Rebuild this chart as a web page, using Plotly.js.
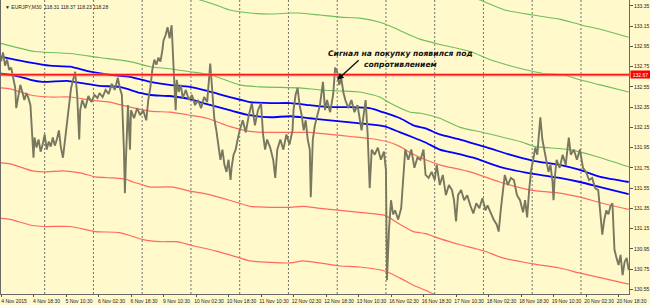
<!DOCTYPE html>
<html><head><meta charset="utf-8">
<script src="https://cdn.plot.ly/plotly-3.0.1.min.js"></script>
<style>html,body{margin:0;padding:0;background:#FFF9CC;}#chart{width:650px;height:305px;}</style>
</head><body><div id="chart"></div>
<script>
const symbolHeader = "\u25BC EURJPY,M30  118.31 118.37 118.23 118.28";
const labelBars = [0,32,64,96,128,160,192,224,256,288,320,352,384,416,448,480,512,544,576,608];
const labelTexts = ["4 Nov 2015","4 Nov 18:30","5 Nov 10:30","6 Nov 02:30","6 Nov 18:30","9 Nov 10:30","10 Nov 02:30","10 Nov 18:30","11 Nov 10:30","12 Nov 02:30","12 Nov 18:30","13 Nov 10:30","16 Nov 02:30","16 Nov 18:30","17 Nov 10:30","18 Nov 02:30","18 Nov 18:30","19 Nov 10:30","20 Nov 02:30","20 Nov 18:30"];
const dayGridBars = [43,91,139,187,235,283,331,379,427,475,523,571];
const yTicks = [133.35,133.15,132.95,132.75,132.55,132.35,132.15,131.95,131.75,131.55,131.35,131.15,130.95,130.75,130.55];
const resistance = 132.67;
const noteLines = ["Сигнал на покупку появился под","сопротивлением"];

const priceBars = [0,2,4,6,8,10,12,14,15,17,19,21,23,25,27,29,30,31,32,33,35,37,39,41,43,45,47,49,51,53,55,57,59,61,63,65,67,69,71,73,75,77,78,80,83,86,89,92,95,97,100,103,106,109,112,115,117,119,121,122,123,125,127,128,131,134,137,140,143,145,147,149,151,153,155,157,159,160,162,164,166,168,170,172,173,175,177,179,182,185,188,191,194,197,200,203,206,208,210,212,214,216,218,220,222,224,226,227,229,231,233,235,238,241,244,247,250,253,256,258,260,262,265,268,270,272,275,278,281,284,287,288,290,292,294,296,298,300,302,304,305,307,309,311,314,317,319,321,324,327,329,331,333,335,337,339,342,345,348,351,353,355,357,359,361,363,365,368,371,374,377,379,380,382,384,386,388,391,394,396,398,401,404,407,410,413,416,418,421,424,427,429,432,435,438,441,444,446,448,450,453,456,459,462,465,468,471,474,477,479,482,485,488,490,492,494,496,499,502,505,508,511,514,516,518,520,522,524,526,528,530,531,533,535,537,539,541,543,544,545,547,550,553,556,559,561,564,567,570,573,576,579,582,585,588,590,592,594,596,598,600,602,604,606,608,610,612,614,616,618];
const priceClose = [132.80,132.89,132.76,132.82,132.72,132.74,132.64,132.54,132.34,132.47,132.57,132.50,132.42,132.49,132.44,132.37,132.15,131.93,131.85,132.05,131.95,132.03,131.91,131.98,132.08,131.93,132.01,131.96,132.05,131.97,132.03,132.12,131.95,131.85,132.03,132.22,132.42,132.54,132.62,132.70,132.47,132.03,132.32,132.42,132.34,132.46,132.40,132.47,132.44,132.49,132.45,132.52,132.48,132.58,132.52,132.64,132.54,132.47,131.93,131.50,131.83,132.37,131.93,132.32,132.24,132.34,132.27,132.32,132.22,132.42,132.54,132.72,132.82,132.77,132.84,132.80,132.92,133.01,133.06,133.14,133.03,133.16,132.72,132.32,132.62,132.50,132.57,132.44,132.52,132.42,132.47,132.37,132.42,132.34,132.45,132.40,132.78,132.47,132.24,132.12,131.98,131.83,131.93,131.78,131.71,131.83,131.63,131.75,131.88,131.93,132.03,132.12,132.22,132.10,132.27,132.39,132.17,132.32,132.39,132.08,131.93,132.03,131.95,131.83,131.65,131.93,132.03,131.93,132.08,131.98,132.12,132.32,132.47,132.54,132.37,132.27,132.12,132.22,132.03,131.93,131.46,132.03,132.17,132.24,132.37,132.60,132.32,132.42,132.30,132.47,132.74,132.70,132.57,132.64,132.50,132.42,132.34,132.42,132.30,132.37,132.22,132.12,132.27,132.42,132.08,131.55,131.93,131.88,131.95,131.83,131.91,131.73,130.64,131.14,131.43,131.29,131.33,131.24,131.35,131.63,131.93,131.83,131.93,131.75,131.85,131.83,131.93,131.68,131.65,131.71,131.63,131.78,131.58,131.68,131.48,131.58,131.53,131.43,131.22,131.48,131.53,131.43,131.48,131.38,131.30,131.40,131.35,131.45,131.33,131.38,131.31,131.24,131.19,131.12,131.33,131.53,131.68,131.58,131.65,131.63,131.48,131.43,131.31,131.43,131.26,131.53,131.73,131.83,131.95,131.88,132.17,132.25,132.03,131.93,131.83,131.71,131.78,131.61,131.43,131.63,131.83,131.75,131.88,131.78,132.05,131.88,131.93,131.83,131.93,131.75,131.71,131.63,131.65,131.55,131.53,131.33,131.09,131.24,131.33,131.29,131.37,131.40,130.94,130.86,130.79,130.89,130.69,130.82,130.86,130.74];

const g0Bars = [462,474,496,524,550,572,590,618];
const g0Vals = [133.44,133.40,133.31,133.26,133.22,133.16,133.12,133.04];
const g1Bars = [186,196,206,225,245,265,285,294,314,334,353,373,388,403,413,432,462,481,501,521,536,553,570,590,618];
const g1Vals = [133.44,133.41,133.38,133.31,133.28,133.27,133.28,133.28,133.26,133.24,133.23,133.19,133.13,133.06,133.02,132.97,132.90,132.82,132.76,132.71,132.68,132.67,132.62,132.57,132.50];
const g2Bars = [0,33,68,97,127,147,166,186,206,235,255,294,314,334,353,373,383,403,413,432,452,475,491,511,526,538,560,587,618];
const g2Vals = [132.98,132.90,132.88,132.84,132.80,132.75,132.73,132.70,132.67,132.57,132.55,132.54,132.52,132.51,132.50,132.45,132.39,132.30,132.29,132.24,132.15,132.10,132.06,132.01,131.96,131.95,131.93,131.86,131.76];
const b1Bars = [0,9,29,48,68,88,107,127,147,166,186,203,225,245,265,285,304,324,344,363,376,393,406,418,432,452,479,501,524,550,570,590,618];
const b1Vals = [132.85,132.83,132.79,132.76,132.75,132.70,132.67,132.65,132.60,132.57,132.55,132.51,132.45,132.40,132.39,132.39,132.37,132.35,132.35,132.34,132.30,132.24,132.17,132.14,132.08,132.03,131.95,131.88,131.82,131.78,131.73,131.66,131.61];
const b2Bars = [0,9,19,29,41,65,78,97,117,137,147,166,186,199,225,245,265,285,304,324,344,363,378,393,406,418,432,445,465,491,524,550,570,590,618];
const b2Vals = [132.68,132.67,132.65,132.62,132.60,132.61,132.59,132.56,132.55,132.49,132.47,132.46,132.43,132.39,132.32,132.27,132.25,132.26,132.24,132.22,132.20,132.18,132.16,132.10,132.05,132.00,131.93,131.90,131.85,131.76,131.69,131.65,131.61,131.56,131.49];
const r1Bars = [0,9,29,48,68,88,107,127,147,166,186,203,225,245,265,285,304,324,344,363,380,393,403,418,432,462,491,521,550,570,592,618];
const r1Vals = [132.54,132.53,132.47,132.45,132.45,132.42,132.40,132.35,132.31,132.30,132.27,132.24,132.16,132.11,132.10,132.10,132.10,132.08,132.06,132.04,132.01,131.96,131.90,131.83,131.78,131.71,131.61,131.53,131.50,131.46,131.40,131.34];
const r2Bars = [0,9,31,43,61,78,93,110,122,130,140,147,169,186,203,225,235,245,265,285,297,314,334,353,363,378,393,406,418,432,452,475,494,524,550,570,592,618];
const r2Vals = [131.80,131.79,131.72,131.71,131.72,131.70,131.66,131.65,131.64,131.61,131.58,131.56,131.56,131.52,131.49,131.43,131.40,131.37,131.36,131.36,131.37,131.35,131.33,131.31,131.30,131.28,131.19,131.12,131.10,131.05,130.99,130.93,130.86,130.80,130.76,130.71,130.66,130.60];
const r3Bars = [0,9,31,43,68,93,117,140,157,173,189,211,225,235,245,285,297,314,334,353,378,393,406,418,429,452,491,550,618];
const r3Vals = [131.25,131.24,131.18,131.17,131.17,131.12,131.11,131.04,131.02,131.02,130.98,130.93,130.89,130.86,130.83,130.81,130.83,130.81,130.78,130.77,130.73,130.66,130.59,130.54,130.49,130.43,130.34,130.23,130.10];

const GREEN = '#6cbf5a', BLUE = '#0000ff', RED = '#ff6a5e';
function band(xs, ys, color, width) {
  return {x: xs, y: ys, type: 'scatter', mode: 'lines', hoverinfo: 'skip',
          line: {color: color, width: width, shape: 'spline', smoothing: 0.6}};
}
const traces = [
  band(g0Bars, g0Vals, GREEN, 1.1),
  band(g1Bars, g1Vals, GREEN, 1.1),
  band(g2Bars, g2Vals, GREEN, 1.1),
  band(r1Bars, r1Vals, RED, 1.2),
  band(r2Bars, r2Vals, RED, 1.2),
  band(r3Bars, r3Vals, RED, 1.2),
  band(b1Bars, b1Vals, BLUE, 1.8),
  band(b2Bars, b2Vals, BLUE, 1.8),
  {x: priceBars, y: priceClose, type: 'scatter', mode: 'lines', hoverinfo: 'skip',
   line: {color: '#78785f', width: 1.9}}
];

const shapes = dayGridBars.map(b => ({type: 'line', xref: 'x', yref: 'paper', x0: b, x1: b, y0: 0, y1: 1,
  layer: 'below', line: {color: '#707070', width: 1, dash: '2px,2px'}}));
shapes.push({type: 'line', xref: 'paper', yref: 'y', x0: 0, x1: 1, y0: resistance, y1: resistance,
  line: {color: 'rgba(255,120,120,0.55)', width: 3.5}});
shapes.push({type: 'line', xref: 'paper', yref: 'y', x0: 0, x1: 1, y0: resistance, y1: resistance,
  line: {color: '#ff1a1a', width: 1.4}});

const annotations = [
  {xref: 'paper', yref: 'paper', x: 0, y: 1, xanchor: 'left', yanchor: 'top', xshift: 2, yshift: -2,
   text: symbolHeader, showarrow: false, font: {family: 'Liberation Sans, Arial', size: 5, color: '#222'}},
  {xref: 'x', yref: 'y', x: 393, y: 132.885, text: noteLines[0], showarrow: false,
   font: {family: 'DejaVu Sans', size: 7.6, color: '#111', weight: 'bold', style: 'italic'}},
  {xref: 'x', yref: 'y', x: 393, y: 132.776, text: noteLines[1], showarrow: false,
   font: {family: 'DejaVu Sans', size: 7.6, color: '#111', weight: 'bold', style: 'italic'}},
  {xref: 'x', yref: 'y', x: 331, y: 132.62, ax: 23, ay: -21, text: '', showarrow: true,
   arrowhead: 2, arrowsize: 1, arrowwidth: 1.3, arrowcolor: '#111'},
  {xref: 'paper', yref: 'y', x: 1, y: resistance, xanchor: 'left', yanchor: 'middle', xshift: 1,
   text: resistance.toFixed(2), showarrow: false, bgcolor: '#ff0000', width: 19, height: 7, borderpad: 0,
   font: {family: 'Liberation Sans, Arial', size: 5, color: '#ffffff'}}
];

const layout = {
  width: 650, height: 305,
  margin: {l: 1, r: 21, t: 0, b: 11, pad: 0},
  paper_bgcolor: '#FFF9CC', plot_bgcolor: '#FFF9CC',
  showlegend: false,
  xaxis: {range: [0, 618.3], tickmode: 'array', tickvals: labelBars, ticktext: labelTexts,
    showgrid: false, zeroline: false, ticks: 'outside', ticklen: 2, tickcolor: '#555',
    ticklabelshift: 13, ticklabelstandoff: 0,
    tickfont: {family: 'Liberation Sans, Arial', size: 5, color: '#222'},
    showline: true, linecolor: '#6a6a6a', linewidth: 1, fixedrange: true},
  yaxis: {range: [130.503, 133.409], side: 'right', tickmode: 'array', tickvals: yTicks,
    tickformat: '.2f', showgrid: false, zeroline: false, ticks: 'outside', ticklen: 3, tickcolor: '#555',
    tickfont: {family: 'Liberation Sans, Arial', size: 5, color: '#222'},
    showline: true, mirror: true, linecolor: '#6a6a6a', linewidth: 1, fixedrange: true},
  shapes: shapes,
  annotations: annotations
};
Plotly.newPlot('chart', traces, layout, {staticPlot: true, displayModeBar: false});
</script></body></html>
